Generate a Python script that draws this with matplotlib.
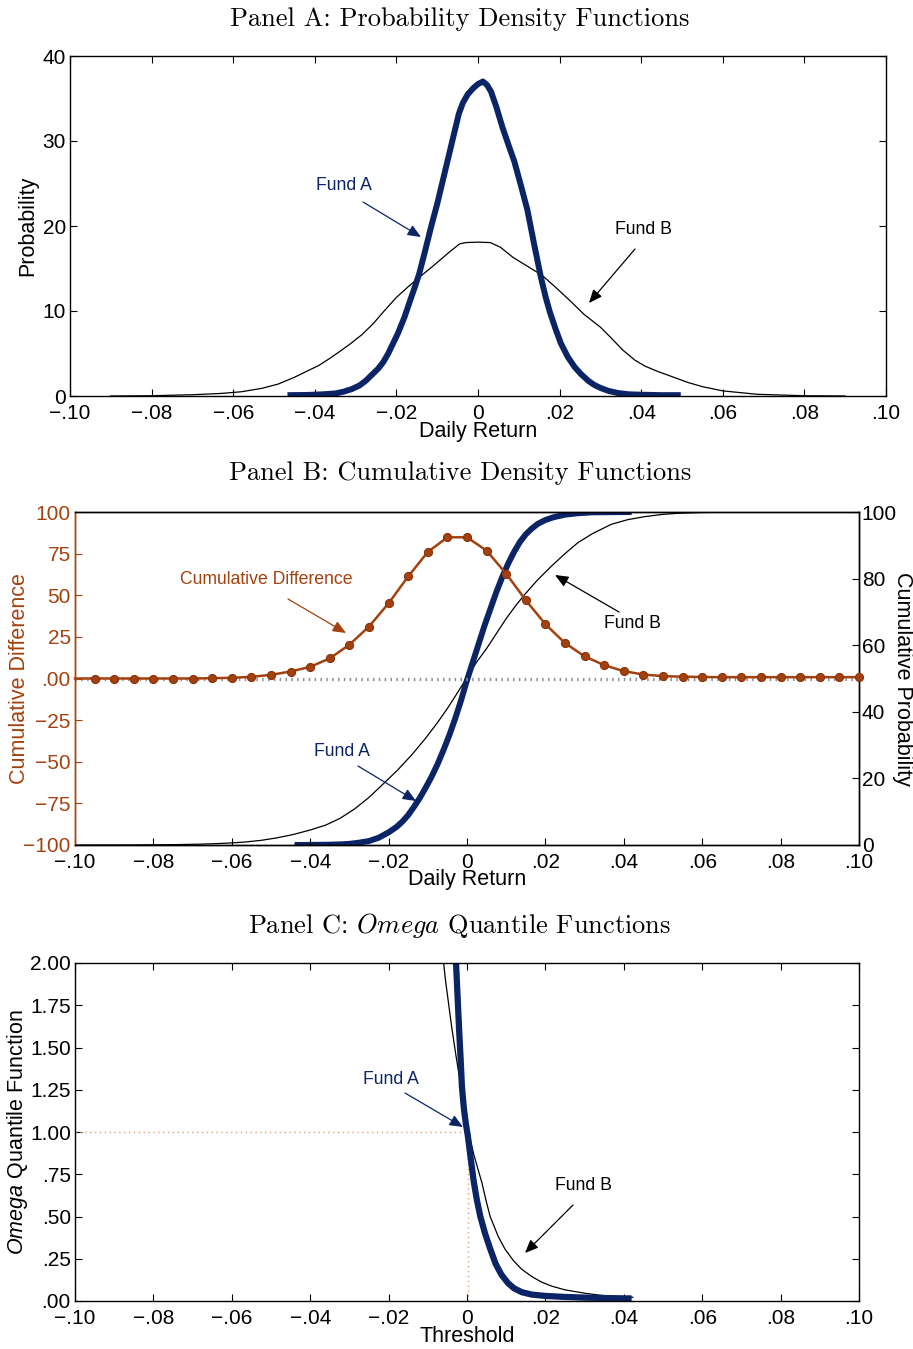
import matplotlib
matplotlib.use('Agg')
import matplotlib.pyplot as plt

plt.rcParams['font.family'] = ['Liberation Sans', 'DejaVu Sans']
plt.rcParams['mathtext.fontset'] = 'custom'
plt.rcParams['mathtext.rm'] = 'Liberation Sans'
plt.rcParams['mathtext.it'] = 'Liberation Sans:italic'
plt.rcParams['mathtext.bf'] = 'Liberation Sans:bold'
plt.rcParams['axes.unicode_minus'] = True

# ---------------- data ----------------
x_ticks = [-0.10, -0.08, -0.06, -0.04, -0.02, 0.0, 0.02, 0.04, 0.06, 0.08, 0.10]
x_tick_labels = ['\u2212.10', '\u2212.08', '\u2212.06', '\u2212.04', '\u2212.02', '0',
                 '.02', '.04', '.06', '.08', '.10']

# Panel A: densities
pdfA_x = [-0.0467, -0.042, -0.038, -0.035, -0.033, -0.031, -0.029, -0.0275, -0.026, -0.0245,
          -0.0232, -0.022, -0.0207, -0.0196, -0.018, -0.0168, -0.0155, -0.0144, -0.013, -0.0115,
          -0.010, -0.0082, -0.0070, -0.0058, -0.0047, -0.0037, -0.0025, -0.0012, 0.0, 0.0012,
          0.0022, 0.0032, 0.0045, 0.0060, 0.0075, 0.0089, 0.0105, 0.0121, 0.0137, 0.0154,
          0.0166, 0.0176, 0.0190, 0.0203, 0.0220, 0.0237, 0.0252, 0.0270, 0.0285, 0.030,
          0.032, 0.0343, 0.037, 0.040, 0.045, 0.0497]
pdfA_y = [0.1, 0.12, 0.2, 0.3, 0.5, 0.8, 1.25, 1.8, 2.5, 3.2,
          4.0, 5.0, 6.3, 7.4, 9.3, 11.0, 12.8, 14.4, 17.0, 19.9,
          22.6, 26.2, 28.6, 31.0, 33.2, 34.5, 35.5, 36.2, 36.7, 37.0,
          36.6, 35.8, 34.0, 31.6, 29.5, 27.6, 24.8, 21.9, 18.0, 14.0,
          11.6, 9.9, 7.9, 6.2, 4.6, 3.4, 2.6, 1.8, 1.3, 0.95,
          0.6, 0.35, 0.2, 0.15, 0.1, 0.1]
pdfB_x = [-0.09, -0.08, -0.07, -0.063, -0.058, -0.053, -0.049, -0.045, -0.042, -0.039,
          -0.0364, -0.034, -0.0314, -0.0285, -0.0257, -0.023, -0.020, -0.017, -0.0143, -0.011,
          -0.0071, -0.0045, -0.0030, 0.0, 0.0030, 0.0055, 0.0086, 0.012, 0.0157, 0.019,
          0.0228, 0.026, 0.030, 0.0325, 0.0355, 0.0385, 0.041, 0.044, 0.048, 0.0514,
          0.055, 0.060, 0.0685, 0.080, 0.090]
pdfB_y = [0.0, 0.03, 0.15, 0.3, 0.5, 0.9, 1.4, 2.2, 2.9, 3.6,
          4.4, 5.2, 6.1, 7.2, 8.5, 10.0, 11.6, 12.9, 14.0, 15.3,
          16.9, 17.9, 18.05, 18.1, 18.05, 17.5, 16.3, 15.3, 14.2, 12.8,
          11.1, 9.6, 8.1, 6.9, 5.4, 4.2, 3.5, 2.9, 2.2, 1.6,
          1.1, 0.6, 0.2, 0.03, 0.0]
pdf_yticks = [0, 10, 20, 30, 40]
pdf_ytick_labels = ['0', '10', '20', '30', '40']

# Panel B: cumulative distributions
cdfA_x = [-0.044, -0.038, -0.035, -0.032, -0.030, -0.0275, -0.025, -0.0225, -0.020, -0.018,
          -0.0165, -0.015, -0.0135, -0.012, -0.0105, -0.009, -0.0075, -0.006, -0.0045, -0.003,
          -0.0015, 0.0, 0.0015, 0.003, 0.0045, 0.006, 0.0075, 0.009, 0.0105, 0.012,
          0.0135, 0.015, 0.0165, 0.018, 0.020, 0.022, 0.025, 0.028, 0.032, 0.042]
cdfA_y = [0.0, 0.05, 0.1, 0.2, 0.35, 0.7, 1.2, 2.2, 3.8, 5.4,
          7.0, 9.0, 11.5, 14.2, 17.3, 20.6, 24.3, 28.5, 33.0, 38.0,
          43.5, 49.5, 55.0, 60.5, 66.0, 71.0, 76.0, 80.5, 84.5, 88.0,
          91.0, 93.3, 95.0, 96.4, 97.6, 98.4, 99.2, 99.6, 99.9, 100.0]
cdfB_x = [-0.10, -0.085, -0.075, -0.068, -0.062, -0.057, -0.0525, -0.0487, -0.0445, -0.040,
          -0.036, -0.0324, -0.0287, -0.025, -0.0215, -0.0177, -0.014, -0.0106, -0.0075, -0.005,
          -0.0025, 0.0, 0.0025, 0.005, 0.0075, 0.010, 0.0125, 0.015, 0.018, 0.0216,
          0.025, 0.0283, 0.032, 0.0368, 0.041, 0.0453, 0.050, 0.0537, 0.060, 0.068,
          0.080, 0.10]
cdfB_y = [0.0, 0.02, 0.1, 0.25, 0.5, 0.85, 1.4, 2.1, 3.1, 4.5,
          6.0, 8.0, 10.8, 14.3, 18.2, 22.5, 27.2, 32.0, 36.8, 41.0,
          45.6, 50.3, 55.0, 59.0, 63.5, 68.0, 72.0, 75.6, 79.6, 83.8,
          87.5, 90.8, 93.5, 96.3, 97.7, 98.6, 99.3, 99.6, 99.85, 99.97,
          100.0, 100.0]
diff_x = [-0.100, -0.095, -0.090, -0.085, -0.080, -0.075, -0.070, -0.065, -0.060, -0.055,
          -0.050, -0.045, -0.040, -0.035, -0.030, -0.025, -0.020, -0.015, -0.010, -0.005,
          0.000, 0.005, 0.010, 0.015, 0.020, 0.025, 0.030, 0.035, 0.040, 0.045,
          0.050, 0.055, 0.060, 0.065, 0.070, 0.075, 0.080, 0.085, 0.090, 0.095, 0.100]
diff_y = [0.0, 0.0, 0.0, 0.0, 0.0, 0.0, 0.0, 0.2, 0.4, 1.0,
          2.2, 4.2, 7.0, 12.1, 20.3, 31.2, 45.2, 61.3, 76.0, 84.8,
          84.8, 76.8, 62.9, 47.0, 32.6, 21.3, 13.3, 8.0, 4.4, 2.4,
          1.4, 1.1, 0.9, 0.8, 0.8, 0.8, 0.8, 0.8, 0.8, 0.8, 0.8]
diff_yticks = [-100, -75, -50, -25, 0, 25, 50, 75, 100]
diff_ytick_labels = ['\u2212100', '\u221275', '\u221250', '\u221225', '.00', '25', '50', '75', '100']
cdf_yticks = [0, 20, 40, 60, 80, 100]
cdf_ytick_labels = ['0', '20', '40', '60', '80', '100']

# Panel C: Omega functions
omA_x = [-0.0029, -0.0026, -0.0023, -0.0020, -0.0016, -0.0013, -0.0008, -0.0003, 0.0002, 0.0008,
         0.0017, 0.0025, 0.0034, 0.0046, 0.0059, 0.0073, 0.0088, 0.0105, 0.0120, 0.0140,
         0.0165, 0.020, 0.025, 0.030, 0.036, 0.042]
omA_y = [2.05, 1.90, 1.75, 1.60, 1.42, 1.27, 1.14, 1.05, 0.98, 0.87,
         0.71, 0.60, 0.50, 0.40, 0.31, 0.22, 0.155, 0.105, 0.075, 0.052,
         0.038, 0.030, 0.024, 0.020, 0.017, 0.015]
omB_x = [-0.0062, -0.0055, -0.0047, -0.0039, -0.0028, -0.0017, -0.0007, 0.0004, 0.0017, 0.0028,
         0.0038, 0.0048, 0.0059, 0.0080, 0.0097, 0.0118, 0.0139, 0.0165, 0.019, 0.0216,
         0.025, 0.030, 0.034, 0.0385, 0.0423]
omB_y = [2.05, 1.90, 1.76, 1.62, 1.45, 1.29, 1.14, 1.00, 0.87, 0.78,
         0.70, 0.60, 0.50, 0.38, 0.307, 0.24, 0.189, 0.145, 0.112, 0.088,
         0.066, 0.046, 0.034, 0.026, 0.022]
om_ref_x = 0.0002
om_ref_y = 1.0
om_yticks = [0, 0.25, 0.5, 0.75, 1.0, 1.25, 1.5, 1.75, 2.0]
om_ytick_labels = ['.00', '.25', '.50', '.75', '1.00', '1.25', '1.50', '1.75', '2.00']

# ---------------- style ----------------
NAVY = '#0b2466'
ORANGE = '#a3410f'
W, H = 913, 1349
TICK_FS = 15
LABEL_FS = 15.5
ANN_FS = 12.7
TITLE_FS = 19

fig = plt.figure(figsize=(W / 100, H / 100), dpi=100)


def rect(l, t, r, b):
    return [l / W, 1 - b / H, (r - l) / W, (b - t) / H]


def fp(px, py):
    return (px / W, 1 - py / H)


def arrow(tail, tip, color):
    fig.add_artist(matplotlib.patches.FancyArrowPatch(
        fp(*tail), fp(*tip), transform=fig.transFigure,
        arrowstyle='-|>,head_length=0.8,head_width=0.34', mutation_scale=10,
        lw=0.9, color=color, shrinkA=0, shrinkB=0))


def style_x(ax):
    ax.set_xlim(-0.10, 0.10)
    ax.set_xticks(x_ticks)
    ax.set_xticklabels(x_tick_labels)


# ---------- Panel A ----------
axA = fig.add_axes(rect(70, 56, 886, 396))
axA.plot(pdfB_x, pdfB_y, color='black', lw=0.9)
axA.plot(pdfA_x, pdfA_y, color=NAVY, lw=4.3, solid_capstyle='butt', solid_joinstyle='round')
style_x(axA)
axA.set_ylim(0, 40)
axA.set_yticks(pdf_yticks)
axA.set_yticklabels(pdf_ytick_labels)
axA.tick_params(direction='in', top=True, right=True, length=5, width=0.8,
                labelsize=TICK_FS, pad=3)
axA.tick_params(axis='x', pad=5.5)
for s in axA.spines.values():
    s.set_linewidth(1.0)
axA.set_xlabel('Daily Return', fontsize=LABEL_FS, va='center')
axA.xaxis.set_label_coords(0.5, (396 - 431) / 340)
axA.set_ylabel('Probability', fontsize=LABEL_FS, va='center')
axA.yaxis.set_label_coords((28 - 70) / 816, 0.5)

fig.text(460 / W, 1 - 19 / H, 'Panel A: Probability Density Functions', family='cmr10',
         fontsize=TITLE_FS, ha='center', va='center')
fig.text(344 / W, 1 - 185 / H, 'Fund A', color=NAVY, fontsize=ANN_FS, ha='center', va='center')
arrow((363, 202), (421, 237), NAVY)
fig.text(643 / W, 1 - 230 / H, 'Fund B', color='black', fontsize=ANN_FS, ha='center', va='center')
arrow((635, 249), (589, 303), 'black')

# ---------- Panel B ----------
axB = fig.add_axes(rect(75, 512, 859, 845))
axB2 = axB.twinx()
axB.set_zorder(axB2.get_zorder() + 1)
axB.patch.set_visible(False)

axB2.plot(cdfB_x, cdfB_y, color='black', lw=0.9)
axB2.plot(cdfA_x, cdfA_y, color=NAVY, lw=4.3, solid_capstyle='butt', solid_joinstyle='round')
axB2.set_ylim(0, 100)
axB2.set_yticks(cdf_yticks)
axB2.set_yticklabels(cdf_ytick_labels)
axB2.tick_params(axis='y', direction='in', length=5, width=0.8, labelsize=TICK_FS, pad=2)

axB.axhline(0, color='#8f8f8f', lw=2.4, linestyle=(0, (0.45, 1.3)), zorder=1)
axB.plot(diff_x, diff_y, color=ORANGE, lw=1.8, marker='o', markersize=5.8,
         markerfacecolor=ORANGE, markeredgecolor='#8a3208', markeredgewidth=0.8,
         markevery=slice(1, None), clip_on=False, zorder=3)
style_x(axB)
axB.set_ylim(-100, 100)
axB.set_yticks(diff_yticks)
axB.set_yticklabels(diff_ytick_labels)
axB.tick_params(axis='x', direction='in', length=5, width=0.8, labelsize=TICK_FS, pad=5.5)
axB.tick_params(axis='y', direction='in', length=5, width=0.8, labelsize=TICK_FS, pad=3,
                color=ORANGE, labelcolor=ORANGE)
axB.spines['left'].set_color(ORANGE)
axB2.spines['left'].set_color(ORANGE)
for a in (axB, axB2):
    for s in a.spines.values():
        s.set_linewidth(1.0)
axB.set_xlabel('Daily Return', fontsize=LABEL_FS, va='center')
axB.xaxis.set_label_coords(0.5, (845 - 880) / 333)
axB.set_ylabel('Cumulative Difference', fontsize=LABEL_FS, color=ORANGE, va='center')
axB.yaxis.set_label_coords((20 - 75) / 784, 0.5)
axB2.set_ylabel('Cumulative Probability', fontsize=LABEL_FS, rotation=-90, va='center')
axB2.yaxis.set_label_coords((902 - 75) / 784, 0.5)

fig.text(460 / W, 1 - 473 / H, 'Panel B: Cumulative Density Functions', family='cmr10',
         fontsize=TITLE_FS, ha='center', va='center')
fig.text(266 / W, 1 - 579 / H, 'Cumulative Difference', color=ORANGE, fontsize=ANN_FS,
         ha='center', va='center')
arrow((288, 599), (346, 633), ORANGE)
fig.text(632 / W, 1 - 624 / H, 'Fund B', color='black', fontsize=ANN_FS, ha='center', va='center')
arrow((619, 612), (555, 575), 'black')
fig.text(342 / W, 1 - 752 / H, 'Fund A', color=NAVY, fontsize=ANN_FS, ha='center', va='center')
arrow((358, 766), (416, 801), NAVY)

# ---------- Panel C ----------
axC = fig.add_axes(rect(75, 963, 859, 1301))
axC.plot([-0.10, om_ref_x], [om_ref_y, om_ref_y], color='#e39a72', lw=1.0,
         linestyle=(0, (1, 2.5)))
axC.plot([om_ref_x, om_ref_x], [0, om_ref_y], color='#e39a72', lw=1.0,
         linestyle=(0, (1, 2.5)))
axC.plot(omB_x, omB_y, color='black', lw=0.9)
axC.plot(omA_x, omA_y, color=NAVY, lw=4.5, solid_capstyle='butt', solid_joinstyle='round')
style_x(axC)
axC.set_ylim(0, 2.0)
axC.set_yticks(om_yticks)
axC.set_yticklabels(om_ytick_labels)
axC.tick_params(direction='in', top=True, right=True, length=5, width=0.8,
                labelsize=TICK_FS, pad=3)
axC.tick_params(axis='x', pad=5.5)
for s in axC.spines.values():
    s.set_linewidth(1.0)
axC.set_xlabel('Threshold', fontsize=LABEL_FS, va='center')
axC.xaxis.set_label_coords(0.5, (1301 - 1337) / 338)
axC.set_ylabel(r'$\mathit{Omega}$ Quantile Function', fontsize=LABEL_FS, va='center')
axC.yaxis.set_label_coords((18 - 75) / 784, 0.5)

fig.text(460 / W, 1 - 926 / H, r'Panel C: $\mathit{Omega}$ Quantile Functions', family='cmr10',
         math_fontfamily='cm', fontsize=TITLE_FS, ha='center', va='center')
fig.text(391 / W, 1 - 1080 / H, 'Fund A', color=NAVY, fontsize=ANN_FS, ha='center', va='center')
arrow((405, 1093), (463, 1127), NAVY)
fig.text(583 / W, 1 - 1186 / H, 'Fund B', color='black', fontsize=ANN_FS, ha='center', va='center')
arrow((573, 1205), (525, 1253), 'black')

fig.savefig('out.png', dpi=100)
